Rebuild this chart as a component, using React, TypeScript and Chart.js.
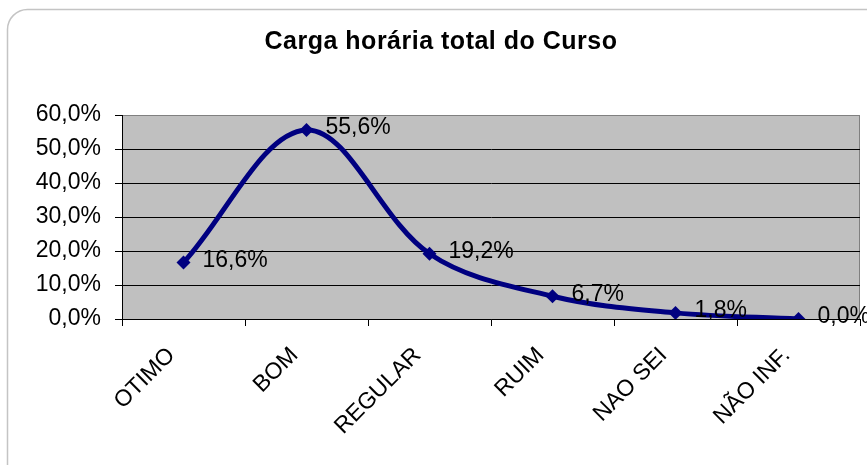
import React, { useEffect, useRef } from "react";
import { Chart, registerables } from "chart.js";

Chart.register(...registerables);

const categories = ["OTIMO", "BOM", "REGULAR", "RUIM", "NAO SEI", "NÃO INF."];
const values = [16.6, 55.6, 19.2, 6.7, 1.8, 0.0];
const yTicks = [0, 10, 20, 30, 40, 50, 60];
const titleText = "Carga horária total do Curso";

const fmt = (v: number) => v.toFixed(1).replace(".", ",") + "%";
const FONT = "'Liberation Sans', Arial, sans-serif";

const decorPlugin = {
  id: "decor",
  beforeDraw(chart: any) {
    const { ctx, chartArea } = chart;
    ctx.save();
    ctx.fillStyle = "#ffffff";
    ctx.fillRect(0, 0, chart.width, chart.height);
    // outer rounded border
    ctx.strokeStyle = "#c4c4c4";
    ctx.lineWidth = 1.5;
    ctx.beginPath();
    ctx.roundRect(7.5, 9.5, 880, 480, 20);
    ctx.stroke();
    // plot area
    ctx.fillStyle = "#c0c0c0";
    ctx.fillRect(chartArea.left, chartArea.top, chartArea.right - chartArea.left, chartArea.bottom - chartArea.top);
    ctx.strokeStyle = "#808080";
    ctx.lineWidth = 1;
    ctx.beginPath();
    ctx.moveTo(chartArea.left, chartArea.top + 0.5);
    ctx.lineTo(chartArea.right - 0.5, chartArea.top + 0.5);
    ctx.lineTo(chartArea.right - 0.5, chartArea.bottom);
    ctx.stroke();
    // title
    ctx.fillStyle = "#000";
    ctx.font = `bold 25px ${FONT}`;
    ctx.textAlign = "center";
    ctx.textBaseline = "alphabetic";
    (ctx as any).letterSpacing = "0.5px";
    ctx.fillText(titleText, 441, 49);
    ctx.restore();
  },
  afterDatasetsDraw(chart: any) {
    const { ctx } = chart;
    const meta = chart.getDatasetMeta(0);
    ctx.save();
    ctx.fillStyle = "#000";
    ctx.font = `23px ${FONT}`;
    ctx.textAlign = "left";
    ctx.textBaseline = "middle";
    meta.data.forEach((pt: any, i: number) => {
      ctx.fillText(fmt(values[i]), pt.x + 19, pt.y - 2);
    });
    ctx.restore();
  },
};

export default function App() {
  const ref = useRef<HTMLCanvasElement>(null);
  useEffect(() => {
    if (!ref.current) return;
    const chart = new Chart(ref.current, {
      type: "line",
      data: {
        labels: categories,
        datasets: [
          {
            data: values,
            borderColor: "#000080",
            backgroundColor: "#000080",
            borderWidth: 5,
            tension: 0.35,
            pointStyle: "rectRot",
            pointRadius: 7,
            pointBorderWidth: 0,
            pointBackgroundColor: "#000080",
            fill: false,
          },
        ],
      },
      options: {
        responsive: false,
        animation: false,
        layout: { padding: { left: 0, top: 115, right: 7, bottom: 0 } },
        plugins: {
          legend: { display: false },
          title: { display: false },
          tooltip: { enabled: false },
        },
        scales: {
          x: {
            type: "category",
            offset: true,
            grid: {
              offset: true,
              drawOnChartArea: false,
              drawTicks: true,
              tickLength: 7,
              color: "#000",
            },
            border: { display: true, color: "#000", width: 1 },
            ticks: {
              color: "#000",
              font: { family: FONT, size: 23 },
              minRotation: 45,
              maxRotation: 45,
              autoSkip: false,
              padding: 16,
              labelOffset: -12,
            },
            afterFit(scale: any) {
              scale.height = 146;
            },
          },
          y: {
            min: 0,
            max: 60,
            afterBuildTicks(scale: any) {
              scale.ticks = yTicks.map((v) => ({ value: v }));
            },
            grid: {
              color: (c: any) => (c.tick && c.tick.value === 60 ? "#808080" : "#000"),
              tickColor: "#000",
              drawTicks: true,
              tickLength: 7,
              lineWidth: 1,
            },
            border: { display: true, color: "#000", width: 1 },
            ticks: {
              color: "#000",
              font: { family: FONT, size: 23 },
              padding: 14,
              callback: (v: any) => fmt(Number(v)),
            },
            afterFit(scale: any) {
              scale.width = 122;
            },
          },
        },
      },
      plugins: [decorPlugin],
    });
    return () => chart.destroy();
  }, []);
  return (
    <div style={{ position: "fixed", left: 0, top: 0, width: 867, height: 465 }}>
      <canvas ref={ref} width={867} height={465} style={{ display: "block" }} />
    </div>
  );
}
